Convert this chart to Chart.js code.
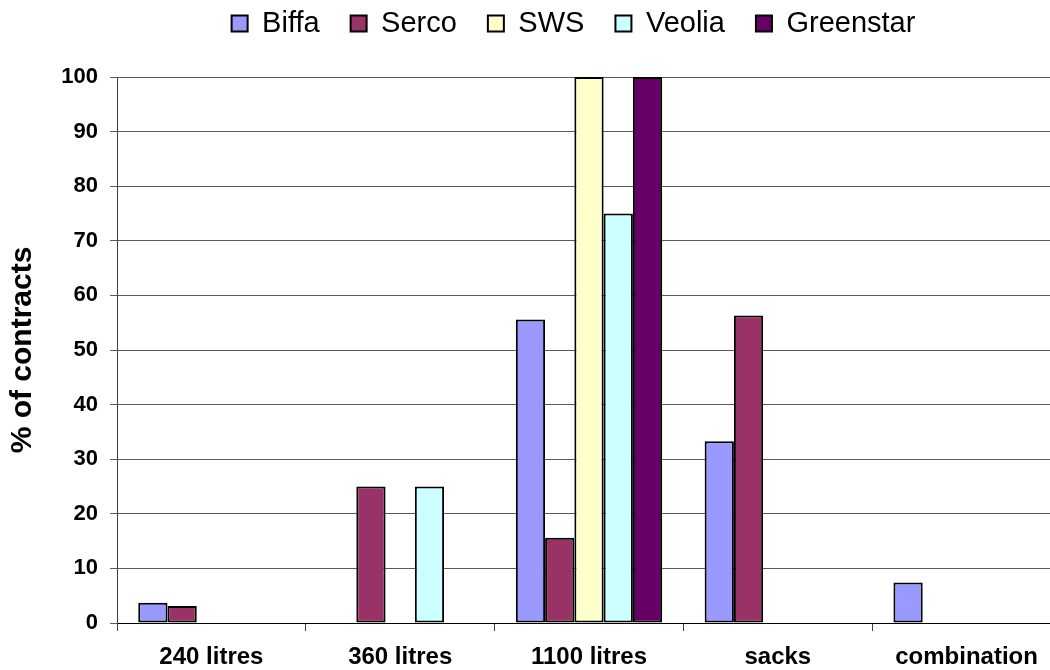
<!DOCTYPE html>
<html>
<head>
<meta charset="utf-8">
<script src="https://cdn.jsdelivr.net/npm/chart.js@4.4.1/dist/chart.umd.min.js"></script>
<style>
  html, body { margin: 0; padding: 0; background: #ffffff; }
  #wrap { width: 1050px; height: 670px; overflow: hidden; position: relative; }
  #chart { display: block; }
</style>
</head>
<body>
<div id="wrap"><canvas id="chart" width="1061" height="670"></canvas></div>
<script>
// Container types (categories) and share of contracts per operator, in %
const categories = ['240 litres', '360 litres', '1100 litres', 'sacks', 'combination'];
const biffa     = [3.7, 0, 55.6, 33.3, 7.4];
const serco     = [3.1, 25, 15.6, 56.3, 0];
const sws       = [0, 0, 100, 0, 0];
const veolia    = [0, 25, 75, 0, 0];
const greenstar = [0, 0, 100, 0, 0];
const yTicks    = [0, 10, 20, 30, 40, 50, 60, 70, 80, 90, 100];

const FONT = '"Liberation Sans", Arial, Helvetica, sans-serif';

function series(label, data, color) {
  return {
    label: label,
    data: data,
    backgroundColor: color,
    borderColor: '#000000',
    borderWidth: 2,
    borderSkipped: false
  };
}

// Place the legend row above the plot, centred over the plot area
const legendPlacement = {
  id: 'legendPlacement',
  afterLayout(chart) {
    const lg = chart.legend;
    if (!lg) return;
    const dx = 43;
    const h = lg.height;
    lg.left += dx;
    lg.right += dx;
    lg.top = -22;
    lg.bottom = lg.top + h;
  }
};

new Chart(document.getElementById('chart'), {
  type: 'bar',
  data: {
    labels: categories,
    datasets: [
      series('Biffa', biffa, '#9999FF'),
      series('Serco', serco, '#993366'),
      series('SWS', sws, '#FFFFCC'),
      series('Veolia', veolia, '#CCFFFF'),
      series('Greenstar', greenstar, '#660066')
    ]
  },
  options: {
    responsive: false,
    animation: false,
    devicePixelRatio: 1,
    layout: { padding: { top: 7, left: 0, right: 0, bottom: 0 } },
    datasets: {
      bar: { categoryPercentage: 0.775, barPercentage: 1.0 }
    },
    plugins: {
      tooltip: { enabled: false },
      legend: {
        position: 'top',
        labels: {
          color: '#000000',
          font: { family: FONT, size: 29 },
          boxWidth: 16,
          boxHeight: 16,
          padding: 31
        }
      }
    },
    scales: {
      x: {
        offset: true,
        grid: {
          display: true,
          drawOnChartArea: false,
          offset: true,
          drawTicks: true,
          tickLength: 8,
          color: '#404040',
          lineWidth: 1
        },
        border: { display: true, color: '#000000', width: 1 },
        ticks: {
          color: '#000000',
          padding: 12,
          maxRotation: 0,
          font: { family: FONT, size: 24, weight: 'bold' }
        },
        afterFit(scale) { scale.height = 47; }
      },
      y: {
        min: 0,
        max: 100,
        afterBuildTicks(scale) {
          scale.ticks = yTicks.map(v => ({ value: v }));
        },
        grid: {
          color: '#5a5a5a',
          lineWidth: 1,
          drawTicks: true,
          tickLength: 7
        },
        border: { display: true, color: '#404040', width: 1 },
        ticks: {
          color: '#000000',
          padding: 12,
          font: { family: FONT, size: 22, weight: 'bold' }
        },
        title: {
          display: true,
          text: '% of contracts',
          color: '#000000',
          padding: { top: 5, bottom: 0 },
          font: { family: FONT, size: 30, weight: 'bold' }
        },
        afterFit(scale) { scale.width = 117; }
      }
    }
  },
  plugins: [legendPlacement]
});
</script>
</body>
</html>
